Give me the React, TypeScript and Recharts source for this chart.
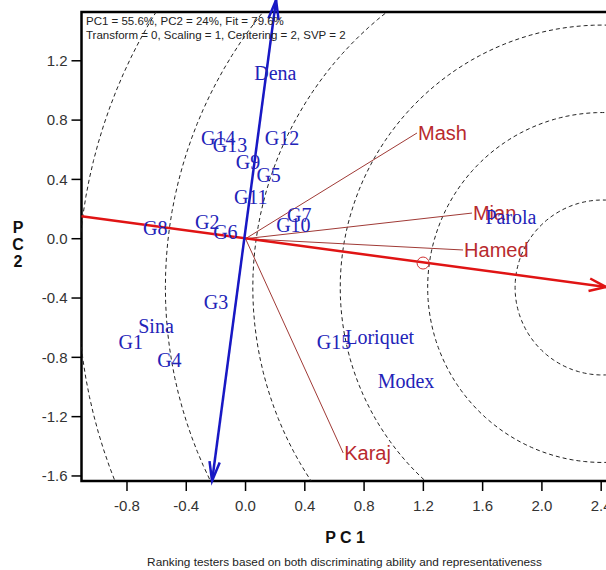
import React from 'react';
import {
  ComposedChart,
  XAxis,
  YAxis,
  Line,
  Scatter,
  ReferenceLine,
  ReferenceDot,
  ReferenceArea,
} from 'recharts';

// ---- Data ----
const genotypeNames = ['Dena', 'G14', 'G13', 'G12', 'G9', 'G5', 'G11', 'G2', 'G6', 'G8', 'G7', 'G10', 'G3', 'Sina', 'G1', 'G4', 'G15', 'Loriquet', 'Modex', 'Parola'];
const genotypePC1 = [0.201, -0.184, -0.105, 0.246, 0.017, 0.156, 0.035, -0.258, -0.136, -0.609, 0.363, 0.323, -0.199, -0.604, -0.775, -0.514, 0.597, 0.905, 1.083, 1.791];
const genotypePC2 = [1.115, 0.677, 0.632, 0.677, 0.519, 0.43, 0.283, 0.115, 0.047, 0.07, 0.16, 0.092, -0.425, -0.589, -0.695, -0.818, -0.695, -0.661, -0.957, 0.148];

const testerNames = ['Mash', 'Mian', 'Hamed', 'Karaj'];
const testerPC1 = [1.157, 1.528, 1.468, 0.659];
const testerPC2 = [0.713, 0.173, -0.076, -1.445];

const aeaStart = { x: -1.107, y: 0.151 };
const aeaTip = { x: 2.433, y: -0.326 };
const aecTop = { x: 0.206, y: 1.61 };
const aecBottom = { x: -0.226, y: -1.634 };
const averageEnv = { x: 1.198, y: -0.164 };
const idealCenter = { x: 2.409, y: -0.329 };
const circleRadii = [0.59, 1.18, 1.77, 2.36, 2.95, 3.54];

const xDomain = [-1.107, 2.446];
const yDomain = [-1.634, 1.529];
const xTicks = [-0.8, -0.4, 0.0, 0.4, 0.8, 1.2, 1.6, 2.0, 2.4];
const yTicks = [-1.6, -1.2, -0.8, -0.4, 0.0, 0.4, 0.8, 1.2];

const titleLine1 = 'PC1 = 55.6%, PC2 = 24%, Fit = 79.6%';
const titleLine2 = 'Transform = 0, Scaling = 1, Centering = 2, SVP = 2';
const xLabel = 'P C 1';
const yLabelChars = ['P', 'C', '2'];
const caption = 'Ranking testers based on both discriminating ability and representativeness';

// ---- Derived tables ----
const genotypes = genotypeNames.map((name, i) => ({ name, x: genotypePC1[i], y: genotypePC2[i] }));
const testers = testerNames.map((name, i) => ({ name, x: testerPC1[i], y: testerPC2[i] }));

// concentric guide circles around the ideal tester (geometry, not data)
const circlePath = (r: number) => {
  const pts: { x: number; y: number }[] = [];
  for (let a = 0; a <= 360; a += 2) {
    const t = (a * Math.PI) / 180;
    pts.push({ x: idealCenter.x + r * Math.cos(t), y: idealCenter.y + r * Math.sin(t) });
  }
  return pts;
};

const SANS = 'Liberation Sans, Arial, sans-serif';
const SERIF = 'Liberation Serif, Times New Roman, serif';
const BLUE_TEXT = '#2323b8';
const RED_TEXT = '#b82a2e';

const makeArrow = (color: string, width: number, both: boolean, len: number, half: number) => (props: any) => {
  const { x1, y1, x2, y2 } = props;
  const ang = Math.atan2(y2 - y1, x2 - x1);
  const head = (tx: number, ty: number, a: number, key: string) => {
    const p1x = tx - len * Math.cos(a - half);
    const p1y = ty - len * Math.sin(a - half);
    const p2x = tx - len * Math.cos(a + half);
    const p2y = ty - len * Math.sin(a + half);
    return (
      <polyline key={key} points={`${p1x},${p1y} ${tx},${ty} ${p2x},${p2y}`} fill="none" stroke={color} strokeWidth={width} />
    );
  };
  return (
    <g>
      <line x1={x1} y1={y1} x2={x2} y2={y2} stroke={color} strokeWidth={width} />
      {head(x2, y2, ang, 'h2')}
      {both ? head(x1, y1, ang + Math.PI, 'h1') : null}
    </g>
  );
};

const GenotypeLabel = (props: any) => {
  const { cx, cy, payload } = props;
  return (
    <text x={cx} y={cy} dy="0.35em" textAnchor="middle" fontFamily={SERIF} fontSize={20} fill={BLUE_TEXT}>
      {payload.name}
    </text>
  );
};

const TesterLabel = (props: any) => {
  const { cx, cy, payload } = props;
  return (
    <text x={cx + 1} y={cy} dy="0.35em" textAnchor="start" fontFamily={SANS} fontSize={20} fill={RED_TEXT}>
      {payload.name}
    </text>
  );
};

export default function App() {
  return (
    <div style={{ position: 'absolute', left: 0, top: 0, width: 606, height: 570, overflow: 'hidden', background: '#fff' }}>
      <ComposedChart
        width={640}
        height={570}
        margin={{ top: 12, right: 32, bottom: 49, left: 21.5 }}
      >
        <XAxis
          type="number"
          dataKey="x"
          domain={xDomain}
          allowDataOverflow
          ticks={xTicks}
          tickFormatter={(v: number) => v.toFixed(1)}
          axisLine={false}
          tickLine={{ stroke: '#000', strokeWidth: 1.5 }}
          tickSize={10}
          tickMargin={9}
          height={40}
          tick={{ fontSize: 15, fill: '#333', fontFamily: SANS }}
        />
        <YAxis
          type="number"
          dataKey="y"
          domain={yDomain}
          allowDataOverflow
          ticks={yTicks}
          tickFormatter={(v: number) => v.toFixed(1)}
          axisLine={false}
          tickLine={{ stroke: '#000', strokeWidth: 1.5 }}
          tickSize={10}
          tickMargin={4}
          width={60}
          tick={{ fontSize: 15, fill: '#333', fontFamily: SANS }}
        />
        {circleRadii.map((r, i) => (
          <Line
            key={`c${i}`}
            data={circlePath(r)}
            dataKey="y"
            type="linear"
            dot={false}
            activeDot={false}
            stroke="#222"
            strokeWidth={1}
            strokeDasharray="4 3"
            isAnimationActive={false}
          />
        ))}
        {testers.map((t) => (
          <ReferenceLine
            key={`v${t.name}`}
            segment={[{ x: 0, y: 0 }, { x: t.x, y: t.y }]}
            stroke="#a03a36"
            strokeWidth={1}
            ifOverflow="visible"
          />
        ))}
        <ReferenceLine
          segment={[aeaStart, aeaTip]}
          ifOverflow="visible"
          shape={makeArrow('#e01414', 2.5, false, 18, 0.36)}
        />
        <ReferenceLine
          segment={[aecBottom, aecTop]}
          ifOverflow="visible"
          shape={makeArrow('#1818c4', 2.5, true, 20, 0.26)}
        />
        <ReferenceDot
          x={averageEnv.x}
          y={averageEnv.y}
          r={6}
          fill="none"
          stroke="#d03030"
          strokeWidth={1}
          ifOverflow="visible"
        />
        <Scatter data={testers} dataKey="y" shape={TesterLabel} isAnimationActive={false} />
        <Scatter data={genotypes} dataKey="y" shape={GenotypeLabel} isAnimationActive={false} />
        <ReferenceArea
          x1={xDomain[0]}
          x2={xDomain[1]}
          y1={yDomain[0]}
          y2={yDomain[1]}
          fill="none"
          fillOpacity={0}
          stroke="#000"
          strokeWidth={2.5}
          ifOverflow="visible"
        />
      </ComposedChart>
      <svg width={606} height={570} style={{ position: 'absolute', left: 0, top: 0, pointerEvents: 'none' }}>
        <text x={86} y={25} fontFamily={SANS} fontSize={11.5} fill="#222">{titleLine1}</text>
        <text x={86} y={39} fontFamily={SANS} fontSize={11.5} fill="#222">{titleLine2}</text>
        <text x={345} y={543} textAnchor="middle" fontFamily={SANS} fontSize={16} fontWeight="bold" fill="#111">{xLabel}</text>
        {yLabelChars.map((c, i) => (
          <text key={c} x={18} y={233 + i * 17} textAnchor="middle" fontFamily={SANS} fontSize={16} fontWeight="bold" fill="#111">{c}</text>
        ))}
        <text x={344.5} y={566} textAnchor="middle" fontFamily={SANS} fontSize={11.8} fill="#222">{caption}</text>
      </svg>
    </div>
  );
}
